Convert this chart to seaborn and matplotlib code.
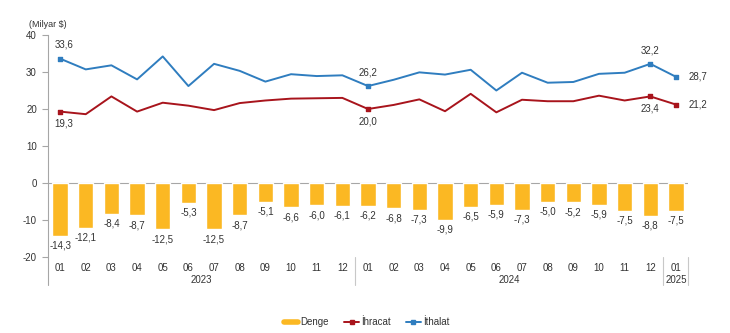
import numpy as np
import pandas as pd
import matplotlib
matplotlib.use("Agg")
import matplotlib.pyplot as plt
from matplotlib.lines import Line2D
import seaborn as sns

# Monthly foreign trade, billion USD
months = ["01", "02", "03", "04", "05", "06", "07", "08", "09", "10", "11", "12",
          "01", "02", "03", "04", "05", "06", "07", "08", "09", "10", "11", "12",
          "01"]
years = ["2023", "2024", "2025"]
year_spans = [(0, 11), (12, 23), (24, 24)]

denge = [-14.3, -12.1, -8.4, -8.7, -12.5, -5.3, -12.5, -8.7, -5.1, -6.6, -6.0, -6.1,
         -6.2, -6.8, -7.3, -9.9, -6.5, -5.9, -7.3, -5.0, -5.2, -5.9, -7.5, -8.8,
         -7.5]
ihracat = [19.3, 18.6, 23.4, 19.3, 21.7, 20.9, 19.7, 21.6, 22.3, 22.8, 22.9, 23.0,
           20.0, 21.1, 22.6, 19.4, 24.1, 19.1, 22.5, 22.1, 22.1, 23.6, 22.3, 23.4,
           21.2]
ithalat = [33.6, 30.7, 31.8, 28.0, 34.2, 26.2, 32.2, 30.3, 27.4, 29.4, 28.9, 29.1,
           26.2, 27.9, 29.9, 29.3, 30.6, 25.0, 29.8, 27.1, 27.3, 29.5, 29.8, 32.2,
           28.7]

# points that carry a marker and a value label
marked = [0, 12, 23, 24]

GOLD = "#FBB823"
RED = "#A8141C"
BLUE = "#2F7DBF"
TXT = "#333333"
AXIS = "#A6A6A6"

sns.set_style("white")
plt.rcParams["font.family"] = ["Liberation Sans", "DejaVu Sans"]

df = pd.DataFrame({
    "pos": np.arange(len(months)),
    "key": [f"{i:02d}" for i in range(len(months))],
    "denge": denge,
    "ihracat": ihracat,
    "ithalat": ithalat,
})

fig = plt.figure(figsize=(7.30, 3.33), dpi=100)
ax = fig.add_axes([0.0658, 0.228, 0.8767, 0.667])

sns.barplot(data=df, x="key", y="denge", color=GOLD, width=0.6, saturation=1,
            ax=ax, zorder=2)
sns.lineplot(data=df, x="pos", y="ihracat", color=RED, lw=1.4, ax=ax, zorder=3)
sns.lineplot(data=df, x="pos", y="ithalat", color=BLUE, lw=1.4, ax=ax, zorder=3)

mk = df.loc[marked]
ax.scatter(mk["pos"], mk["ihracat"], marker="s", s=12, color=RED, zorder=4)
ax.scatter(mk["pos"], mk["ithalat"], marker="s", s=12, color=BLUE, zorder=4)

ax.set_xlim(-0.47, len(months) - 0.53)
ax.set_ylim(-20, 40)
ax.set_yticks([40, 30, 20, 10, 0, -10, -20])
ax.set_yticklabels(["40", "30", "20", "10", "0", "-10", "-20"])
ax.set_xticks(df["pos"])
ax.set_xticklabels(months)
ax.tick_params(axis="x", length=0, pad=4, labelsize=7, labelcolor=TXT)
ax.tick_params(axis="y", length=4, width=0.8, color=AXIS, pad=4, labelsize=7,
               labelcolor=TXT, direction="out", left=True)
ax.set_xlabel("")
ax.set_ylabel("")

for s in ["top", "right", "bottom"]:
    ax.spines[s].set_visible(False)
ax.spines["left"].set_color(AXIS)
ax.spines["left"].set_linewidth(0.8)
ax.spines["left"].set_bounds(-20, 40)
ax.axhline(0, color=AXIS, lw=0.8, zorder=1)

# category axis: left edge, group dividers and year labels
trans = ax.get_xaxis_transform()
bottom_frac = -0.126
ax.plot([-0.47, -0.47], [0, bottom_frac], transform=trans, color=AXIS, lw=0.8,
        clip_on=False)
for xdiv in [11.5, 23.5, len(months) - 0.53]:
    ax.plot([xdiv, xdiv], [0, bottom_frac], transform=trans, color="#C8C8C8",
            lw=0.8, clip_on=False)
for yr, (a, b) in zip(years, year_spans):
    ax.text((a + b) / 2, -0.105, yr, transform=trans, ha="center", va="center",
            fontsize=7, color=TXT)

def fmt(v):
    return f"{v:.1f}".replace(".", ",")

# balance labels below each bar
for i, v in enumerate(denge):
    ax.text(i, v - 1.3, fmt(v), ha="center", va="top", fontsize=7, color=TXT)

# line labels
ax.text(0.15, ithalat[0] + 2.6, fmt(ithalat[0]), ha="center", va="bottom", fontsize=7, color=TXT)
ax.text(0.15, ihracat[0] - 1.8, fmt(ihracat[0]), ha="center", va="top", fontsize=7, color=TXT)
ax.text(12, ithalat[12] + 2.2, fmt(ithalat[12]), ha="center", va="bottom", fontsize=7, color=TXT)
ax.text(12, ihracat[12] - 2.0, fmt(ihracat[12]), ha="center", va="top", fontsize=7, color=TXT)
ax.text(23, ithalat[23] + 2.2, fmt(ithalat[23]), ha="center", va="bottom", fontsize=7, color=TXT)
ax.text(23, ihracat[23] - 2.0, fmt(ihracat[23]), ha="center", va="top", fontsize=7, color=TXT)
ax.text(24.5, ithalat[24], fmt(ithalat[24]), ha="left", va="center", fontsize=7, color=TXT)
ax.text(24.5, ihracat[24], fmt(ihracat[24]), ha="left", va="center", fontsize=7, color=TXT)

fig.text(0.04, 0.925, "(Milyar $)", fontsize=6.5, color=TXT, ha="left", va="center")

handles = [
    Line2D([], [], color=GOLD, lw=4),
    Line2D([], [], color=RED, lw=1.4, marker="s", markersize=3),
    Line2D([], [], color=BLUE, lw=1.4, marker="s", markersize=3),
]
fig.legend(handles, ["Denge", "İhracat", "İthalat"], loc="center",
           bbox_to_anchor=(0.502, 0.033), ncol=3, frameon=False, fontsize=7,
           handlelength=1.5, handletextpad=0.2, columnspacing=1.6,
           labelcolor=TXT)

fig.savefig("out.png", dpi=100, facecolor="white")
